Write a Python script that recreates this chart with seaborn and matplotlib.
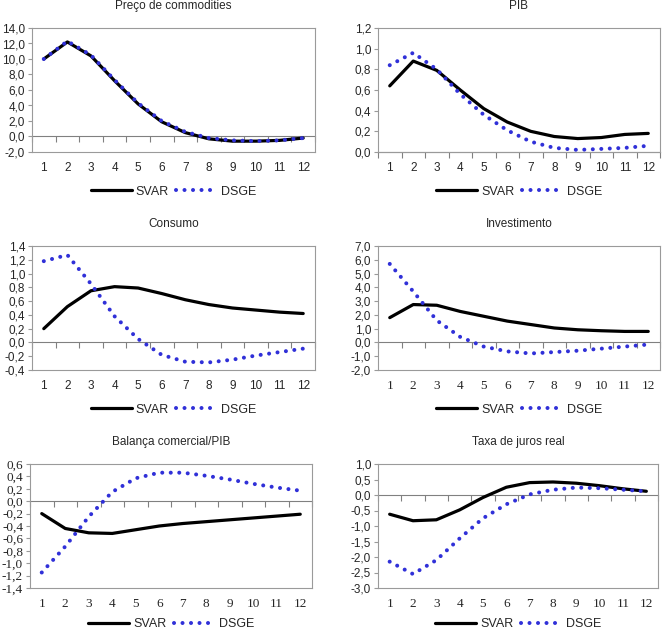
import numpy as np
import pandas as pd
import matplotlib
matplotlib.use("Agg")
import matplotlib.pyplot as plt
import seaborn as sns

periods = list(range(1, 13))

commod_svar = [10.0, 12.2, 10.4, 7.2, 4.2, 1.9, 0.5, -0.3, -0.6, -0.6, -0.5, -0.2]
commod_dsge = [10.0, 12.3, 10.5, 7.3, 4.3, 2.0, 0.6, -0.2, -0.5, -0.6, -0.5, -0.2]

pib_svar = [0.64, 0.88, 0.79, 0.60, 0.42, 0.29, 0.20, 0.15, 0.13, 0.14, 0.17, 0.18]
pib_dsge = [0.84, 0.96, 0.80, 0.56, 0.36, 0.21, 0.10, 0.04, 0.02, 0.03, 0.04, 0.06]

cons_svar = [0.20, 0.52, 0.75, 0.81, 0.79, 0.71, 0.62, 0.55, 0.50, 0.47, 0.44, 0.42]
cons_dsge = [1.18, 1.27, 0.85, 0.38, 0.05, -0.18, -0.28, -0.29, -0.25, -0.19, -0.14, -0.09]

inv_svar = [1.8, 2.75, 2.7, 2.25, 1.9, 1.55, 1.3, 1.05, 0.92, 0.85, 0.8, 0.8]
inv_dsge = [5.7, 3.7, 1.6, 0.4, -0.3, -0.65, -0.8, -0.7, -0.6, -0.45, -0.3, -0.15]

bal_svar = [-0.20, -0.44, -0.51, -0.52, -0.46, -0.40, -0.36, -0.33, -0.30, -0.27, -0.24, -0.21]
bal_dsge = [-1.15, -0.73, -0.25, 0.15, 0.37, 0.46, 0.46, 0.41, 0.35, 0.28, 0.22, 0.17]

juros_svar = [-0.62, -0.83, -0.80, -0.48, -0.08, 0.25, 0.40, 0.42, 0.38, 0.30, 0.20, 0.12]
juros_dsge = [-2.15, -2.55, -2.10, -1.40, -0.75, -0.30, 0.02, 0.17, 0.24, 0.22, 0.17, 0.12]

titles = ["Preço de commodities", "PIB", "Consumo", "Investimento",
          "Balança comercial/PIB", "Taxa de juros real"]

sns.set_style("white")
plt.rcParams["font.family"] = ["Liberation Sans", "DejaVu Sans"]

W, H = 669, 632
fig = plt.figure(figsize=(W / 100, H / 100), dpi=100)

# (left, right, top, bottom) in pixels, y limits, step, fonts for x / y tick labels, legend y
panels = [
    (commod_svar, commod_dsge, (32, 315, 28, 152), (-2, 14), 2, "sans", "sans", -0.32),
    (pib_svar, pib_dsge, (378, 660, 28, 152), (0, 1.2), 0.2, "sans", "sans", -0.32),
    (cons_svar, cons_dsge, (32, 315, 246, 370), (-0.4, 1.4), 0.2, "sans", "sans", -0.32),
    (inv_svar, inv_dsge, (378, 660, 246, 370), (-2, 7), 1, "serif", "sans", -0.32),
    (bal_svar, bal_dsge, (30, 312, 464, 588), (-1.4, 0.6), 0.2, "serif", "serif", -0.29),
    (juros_svar, juros_dsge, (378, 658, 464, 588), (-3, 1), 0.5, "serif", "sans", -0.29),
]

fonts = {"sans": ["Liberation Sans", "DejaVu Sans"],
         "serif": ["Liberation Serif", "DejaVu Serif"]}
fsize = {"sans": 8.5, "serif": 9.5}
blue = "#3030D8"
gray = "#9a9a9a"

for (svar, dsge, box, ylim, step, xfont, yfont, legy), title in zip(panels, titles):
    l, r, t, b = box
    ax = fig.add_axes([l / W, 1 - b / H, (r - l) / W, (b - t) / H])
    df = pd.DataFrame({"periodo": periods, "SVAR": svar, "DSGE": dsge})
    sns.lineplot(data=df, x="periodo", y="SVAR", ax=ax, color="black",
                 linewidth=2.3, label="SVAR")
    sns.lineplot(data=df, x="periodo", y="DSGE", ax=ax, color=blue,
                 linewidth=2.9, linestyle=(0, (0.01, 2.1)),
                 dash_capstyle="round", label="DSGE")

    ax.set_xlim(0.5, 12.5)
    ax.set_ylim(*ylim)
    yt = np.arange(ylim[0], ylim[1] + step / 2, step)
    ax.set_yticks(yt)
    ax.set_yticklabels([f"{v:.1f}".replace(".", ",").replace("-0,0", "0,0") for v in yt],
                       fontsize=fsize[yfont], family=fonts[yfont])
    ax.set_xticks(periods)
    ax.set_xticklabels([str(p) for p in periods], fontsize=fsize[xfont],
                       family=fonts[xfont])
    ax.tick_params(axis="x", length=0, pad=7)
    ax.tick_params(axis="y", length=3, color=gray, pad=2, direction="out", left=True)
    ax.set_xlabel("")
    ax.set_ylabel("")
    for s in ax.spines.values():
        s.set_color(gray)
        s.set_linewidth(0.8)
    ax.set_title(title, fontsize=8.5, pad=14)

    # category axis crossing at zero
    zero = (0 - ylim[0]) / (ylim[1] - ylim[0])
    sec = ax.secondary_xaxis(zero)
    sec.set_alignment("bottom")
    sec.set_xticks(np.arange(0.5, 12.6, 1))
    sec.tick_params(axis="x", length=4, color="#808080", labelbottom=False,
                    labeltop=False, direction="out")
    sec.spines["bottom"].set_color("#808080")
    sec.spines["bottom"].set_linewidth(0.8)

    ax.legend(loc="center", bbox_to_anchor=(0.5, legy), ncol=2, frameon=False,
              fontsize=9, handlelength=3.3, columnspacing=0.6, handletextpad=0.3)

fig.savefig("out.png", dpi=100)
